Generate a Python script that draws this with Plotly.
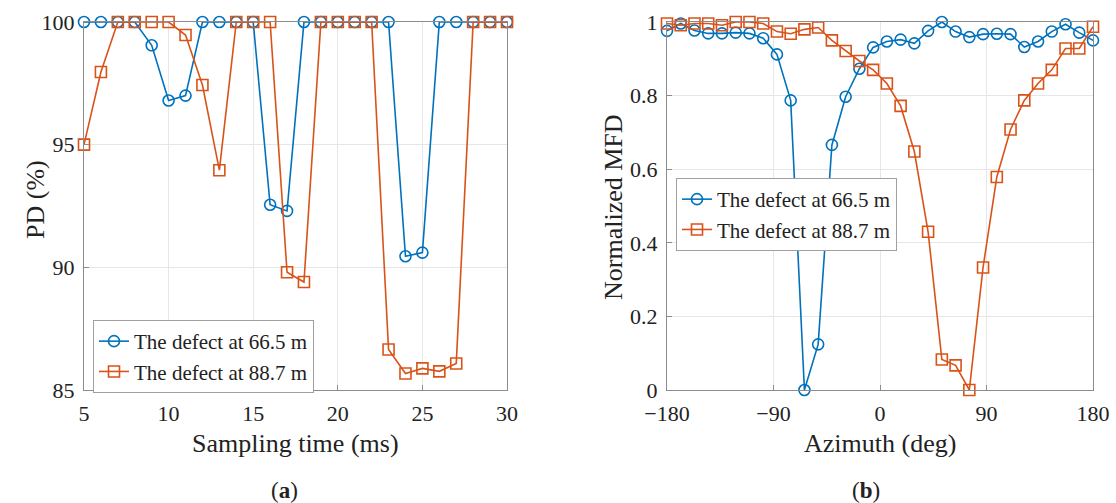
import plotly.graph_objects as go

# ---- data (a) ----
t_ms = list(range(5, 31))
pd_665 = [100, 100, 100, 100, 99.05, 96.8, 97.0, 100, 100, 100, 100, 92.55, 92.3, 100,
          100, 100, 100, 100, 100, 90.45, 90.6, 100, 100, 100, 100, 100]
pd_887 = [95.0, 97.96, 100, 100, 100, 100, 99.47, 97.43, 93.96, 100, 100, 100, 89.8, 89.4,
          100, 100, 100, 100, 86.65, 85.67, 85.88, 85.76, 86.08, 100, 100, 100]

# ---- data (b) ----
n_az = 32
azimuth = [-180 + i * 360 / (n_az - 1) for i in range(n_az)]
mfd_665 = [0.976, 0.996, 0.977, 0.969, 0.969, 0.971, 0.969, 0.956, 0.912, 0.787,
           0.000, 0.124, 0.666, 0.797, 0.873, 0.931, 0.947, 0.952, 0.942, 0.976,
           1.000, 0.974, 0.959, 0.967, 0.968, 0.967, 0.932, 0.947, 0.974, 0.994,
           0.971, 0.950]
mfd_887 = [0.996, 0.991, 0.996, 0.996, 0.991, 1.000, 1.000, 0.996, 0.974, 0.968,
           0.980, 0.985, 0.950, 0.921, 0.894, 0.870, 0.833, 0.772, 0.648, 0.430,
           0.083, 0.067, 0.000, 0.333, 0.579, 0.708, 0.787, 0.833, 0.870, 0.928,
           0.928, 0.987]

names = ["The defect at 66.5 m", "The defect at 88.7 m"]
x_ticks_a = [5, 10, 15, 20, 25, 30]
y_ticks_a = [85, 90, 95, 100]
x_ticks_b = [-180, -90, 0, 90, 180]
x_ticktext_b = ["\u2212180", "\u221290", "0", "90", "180"]
y_ticks_b = [0, 0.2, 0.4, 0.6, 0.8, 1]
y_ticktext_b = ["0", "0.2", "0.4", "0.6", "0.8", "1"]

BLUE = "#0072BD"
ORANGE = "#D95319"
FONT = "Liberation Serif"
AX = "#8c8c8c"
GRID = "#e6e6e6"
TXT = "#222222"

fig = go.Figure()

def add(x, y, name, color, symbol, xa, ya, legend):
    fig.add_trace(go.Scatter(
        x=x, y=y, name=name, mode="lines+markers",
        line=dict(color=color, width=1.6),
        marker=dict(symbol=symbol, size=11, color=color,
                    line=dict(color=color, width=1.6)),
        xaxis=xa, yaxis=ya, legend=legend, cliponaxis=False))

add(t_ms, pd_665, names[0], BLUE, "circle-open", "x", "y", "legend")
add(t_ms, pd_887, names[1], ORANGE, "square-open", "x", "y", "legend")
add(azimuth, mfd_665, names[0], BLUE, "circle-open", "x2", "y2", "legend2")
add(azimuth, mfd_887, names[1], ORANGE, "square-open", "x2", "y2", "legend2")

W, H = 1116, 503
def px(x): return x / W
def py(y): return 1 - y / H

common = dict(showline=True, mirror=True, linecolor=AX, linewidth=1,
              ticks="inside", ticklen=5, tickcolor=AX, automargin=False,
              showgrid=True, gridcolor=GRID, zeroline=False,
              tickfont=dict(family=FONT, size=22, color=TXT))
title_font = dict(family=FONT, size=26, color=TXT)

def ann(text, x, y, angle=0, size=26):
    return dict(text=text, x=px(x), y=py(y), xref="paper", yref="paper",
                xanchor="center", yanchor="middle", textangle=angle,
                showarrow=False, font=dict(family=FONT, size=size, color=TXT))

fig.update_layout(
    width=W, height=H,
    margin=dict(l=0, r=0, t=0, b=0),
    paper_bgcolor="white", plot_bgcolor="white",
    font=dict(family=FONT, color=TXT),
    xaxis=dict(domain=[px(84), px(507)], range=[5, 30], tickvals=x_ticks_a,
               anchor="y", ticklabelstandoff=4, **common),
    yaxis=dict(domain=[py(390), py(22)], range=[85, 100], tickvals=y_ticks_a,
               anchor="x", ticklabelstandoff=4, **common),
    xaxis2=dict(domain=[px(667), px(1093)], range=[-180, 180], tickvals=x_ticks_b,
                ticktext=x_ticktext_b, anchor="y2", ticklabelstandoff=4, **common),
    yaxis2=dict(domain=[py(390), py(22)], range=[0, 1], tickvals=y_ticks_b,
                ticktext=y_ticktext_b, anchor="x2", ticklabelstandoff=4, **common),
    legend=dict(x=px(93), y=py(320), xanchor="left", yanchor="top",
                bgcolor="white", bordercolor="#a0a0a0", borderwidth=1,
                font=dict(family=FONT, size=21, color=TXT),
                tracegroupgap=0, itemwidth=30),
    legend2=dict(x=px(676), y=py(178), xanchor="left", yanchor="top",
                 bgcolor="white", bordercolor="#a0a0a0", borderwidth=1,
                 font=dict(family=FONT, size=21, color=TXT),
                 tracegroupgap=0, itemwidth=30),
    annotations=[
        ann("Sampling time (ms)", 295, 443),
        ann("PD (%)", 36, 200, angle=-90),
        ann("Azimuth (deg)", 880, 443),
        ann("Normalized MFD", 613, 207, angle=-90),
        ann("(<b>a</b>)", 284, 490, size=23),
        ann("(<b>b</b>)", 866, 490, size=23),
    ],
)

fig.write_html("out.html")
